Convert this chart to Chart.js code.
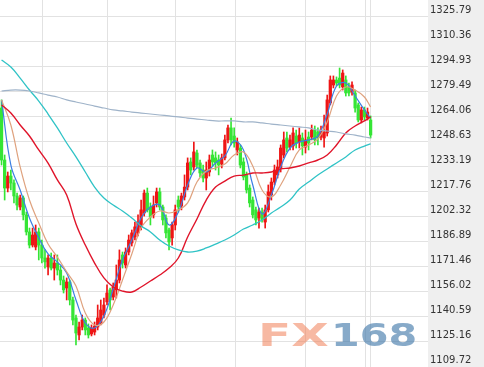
<!DOCTYPE html>
<html><head><meta charset="utf-8">
<script src="https://cdn.jsdelivr.net/npm/chart.js@4.4.0/dist/chart.umd.min.js"></script>
<style>
html,body{margin:0;padding:0;background:#fff;}
#wrap{position:relative;width:484px;height:367px;overflow:hidden;}
#wm{position:absolute;left:0;top:0;width:484px;height:367px;pointer-events:none;font-family:"DejaVu Sans";font-weight:bold;font-size:32px;line-height:32px;}
#wm span{position:absolute;white-space:nowrap;transform-origin:0 0;}
#fx{left:258px;top:319px;color:rgba(240,128,88,0.55);transform:scaleX(1.52);}
#n168{left:331px;top:319px;color:rgba(70,125,172,0.65);transform:scaleX(1.29);}
</style></head><body>
<div id="wrap"><canvas id="c" width="484" height="367"></canvas>
<div id="wm"><span id="fx">FX</span><span id="n168">168</span></div></div>
<script>
// ---------- data ----------
const N_SLOTS = 138; // candle slots across the plot (incl. empty right margin)
const candleOpen = [1269.6,1237.5,1220.2,1227.6,1223.3,1215.3,1208.5,1214.1,1203.6,1193.1,
1185.0,1183.8,1193.1,1185.0,1177.0,1171.5,1177.0,1170.8,1173.9,1169.6,
1163.4,1158.5,1162.2,1151.1,1140.0,1129.5,1134.4,1138.7,1133.8,1130.1,
1131.3,1134.4,1136.9,1141.8,1149.9,1157.3,1152.9,1157.3,1163.4,1178.9,
1172.7,1180.7,1186.3,1190.0,1192.5,1196.2,1204.8,1217.1,1208.5,1203.6,
1211.0,1217.8,1208.5,1201.7,1194.3,1189.4,1197.4,1212.8,1209.1,1214.7,
1220.8,1236.3,1233.2,1241.8,1235.7,1231.3,1226.4,1230.1,1240.6,1238.8,
1237.5,1235.0,1238.8,1249.9,1257.3,1252.3,1243.7,1244.9,1236.3,1228.3,
1220.2,1212.8,1206.7,1201.7,1205.4,1199.2,1206.7,1215.9,1223.9,1228.3,
1232.6,1240.6,1251.1,1245.5,1246.2,1252.3,1248.6,1251.1,1245.5,1251.7,
1251.7,1256.0,1254.8,1251.7,1251.1,1254.2,1272.7,1283.8,1286.9,1288.1,
1282.6,1286.9,1282.6,1279.5,1278.9,1271.5,1262.2,1268.4,1263.4,1262.2];
const candleClose = [1237.5,1220.2,1227.6,1223.3,1215.3,1209.7,1214.1,1203.6,1193.1,1185.0,
1191.2,1193.1,1185.0,1177.0,1174.6,1177.0,1170.8,1173.9,1169.6,1163.4,
1157.3,1162.2,1151.1,1138.7,1130.7,1134.4,1138.7,1132.6,1129.5,1133.8,
1135.0,1140.0,1144.9,1148.0,1155.4,1151.1,1159.1,1163.4,1175.8,1173.9,
1180.7,1188.1,1192.5,1196.2,1199.2,1206.7,1217.1,1206.7,1202.3,1209.7,
1217.8,1208.5,1200.5,1192.5,1186.9,1197.4,1206.7,1208.5,1215.3,1220.8,
1235.7,1231.3,1242.5,1234.4,1229.5,1226.4,1231.3,1237.5,1236.3,1235.7,
1234.4,1238.8,1249.9,1257.3,1249.9,1248.0,1248.6,1234.4,1227.0,1219.0,
1211.0,1203.6,1200.5,1205.4,1200.5,1206.7,1217.8,1223.9,1231.3,1233.2,
1244.9,1249.9,1244.9,1249.9,1254.2,1248.0,1252.9,1246.2,1249.9,1248.0,
1256.0,1249.9,1251.1,1256.0,1254.8,1274.6,1286.9,1286.9,1285.0,1283.8,
1291.2,1278.9,1278.9,1283.8,1269.6,1262.2,1268.4,1264.1,1267.1,1252.9];
const candleHigh = [1274.6,1240.6,1230.1,1231.3,1225.2,1217.1,1215.9,1215.3,1205.4,1195.5,
1195.5,1197.4,1195.5,1188.1,1182.0,1178.9,1180.1,1178.9,1178.9,1172.1,
1165.9,1164.7,1163.4,1152.9,1141.8,1137.5,1141.8,1140.0,1136.3,1135.7,
1137.5,1148.0,1151.1,1152.3,1160.4,1158.5,1161.6,1172.7,1182.0,1180.7,
1183.2,1191.2,1194.3,1199.2,1203.6,1212.8,1219.0,1220.2,1211.0,1215.3,
1220.2,1220.2,1209.7,1203.6,1195.5,1199.2,1209.7,1215.3,1217.1,1228.3,
1238.8,1238.8,1248.6,1243.7,1237.5,1234.4,1236.3,1240.6,1243.7,1242.5,
1240.6,1241.2,1252.9,1259.1,1263.4,1257.3,1251.1,1246.8,1238.8,1230.1,
1222.1,1214.7,1208.5,1207.9,1207.9,1209.7,1222.1,1226.4,1234.4,1237.5,
1246.8,1254.8,1254.8,1252.9,1257.3,1256.0,1257.3,1254.2,1256.0,1254.8,
1259.1,1258.5,1257.3,1258.5,1265.3,1277.6,1289.4,1289.4,1288.8,1294.3,
1293.1,1289.4,1285.0,1285.7,1280.7,1272.7,1270.2,1270.2,1269.6,1264.7];
const candleLow = [1234.4,1212.8,1217.8,1219.0,1211.0,1206.7,1206.7,1200.5,1191.2,1183.2,
1183.8,1182.0,1175.8,1173.9,1170.8,1166.5,1169.6,1163.4,1166.5,1160.4,
1155.4,1151.1,1148.0,1135.7,1123.3,1126.4,1132.6,1129.5,1127.6,1128.9,
1129.5,1132.6,1135.7,1140.0,1148.0,1144.9,1151.1,1152.3,1161.6,1170.8,
1170.8,1178.9,1184.4,1188.1,1190.6,1194.3,1202.9,1205.4,1197.4,1201.7,
1208.5,1206.7,1197.4,1189.4,1182.0,1185.0,1194.3,1205.4,1206.7,1212.8,
1219.0,1228.3,1231.3,1232.6,1227.0,1223.9,1219.0,1227.6,1233.8,1231.3,
1228.3,1232.6,1237.5,1248.0,1246.8,1245.5,1240.6,1232.6,1225.2,1217.1,
1208.5,1201.7,1197.4,1195.5,1199.2,1195.5,1205.4,1212.8,1222.1,1226.4,
1230.1,1238.8,1242.5,1243.7,1243.7,1244.9,1244.9,1240.6,1241.8,1243.7,
1249.9,1246.8,1246.8,1249.9,1245.5,1252.3,1271.5,1282.0,1283.2,1282.0,
1280.7,1277.0,1277.0,1277.6,1267.1,1261.0,1260.4,1262.2,1262.2,1251.1];

// moving averages, sampled at these candle indices
const maIndex = [0,3,6,9,12,15,18,21,24,27,30,33,36,39,42,45,48,51,54,57,60,63,66,69,72,75,78,81,84,87,90,93,96,99,102,105,108,111,114,117,119];
const ma5 = [1274.6,1234.4,1219.0,1201.7,1189.4,1179.5,1174.5,1167.8,1151.1,1136.9,
1133.8,1141.2,1157.9,1175.8,1188.1,1201.7,1208.5,1209.7,1197.4,1205.4,
1222.1,1232.6,1230.1,1235.7,1240.0,1249.2,1243.7,1222.1,1204.2,1215.9,
1233.2,1244.9,1248.6,1249.9,1252.3,1265.9,1283.2,1285.0,1277.0,1268.4,1263.4];
const ma10 = [1274.6,1259.1,1233.2,1212.8,1198.6,1185.6,1177.6,1168.4,1159.7,1143.1,
1135.7,1137.5,1148.0,1163.4,1179.5,1195.5,1202.3,1206.0,1204.8,1206.6,
1211.0,1223.9,1230.7,1232.6,1235.0,1240.6,1242.4,1233.8,1219.0,1214.7,
1222.1,1233.2,1243.7,1246.8,1250.5,1261.0,1277.0,1282.6,1280.7,1276.4,1270.2];
const ma20 = [1271.5,1266.5,1259.1,1252.3,1243.7,1235.6,1225.2,1215.9,1198.0,1185.0,
1173.9,1164.7,1159.1,1156.6,1156.0,1159.1,1162.8,1166.5,1170.8,1177.0,
1190.0,1201.1,1212.8,1220.8,1224.5,1227.6,1228.2,1229.5,1229.5,1230.1,
1232.0,1232.6,1233.8,1235.7,1237.5,1240.6,1246.8,1254.2,1258.5,1261.6,1264.1];
const ma60 = [1299.2,1294.9,1288.1,1280.7,1273.9,1265.9,1257.3,1248.0,1239.4,1230.1,
1220.8,1214.0,1209.7,1206.0,1201.7,1196.8,1193.1,1188.1,1184.4,1182.0,
1180.7,1181.3,1183.2,1185.6,1188.1,1191.2,1194.9,1197.4,1200.5,1204.8,
1208.5,1212.8,1219.6,1223.9,1228.2,1232.0,1235.7,1239.4,1243.7,1246.1,1247.4];
const ma120 = [1280.1,1280.7,1280.7,1280.1,1278.9,1277.6,1276.4,1274.6,1273.3,1272.1,
1270.8,1269.6,1268.4,1267.8,1267.1,1266.5,1265.9,1265.3,1264.7,1264.1,
1263.4,1262.8,1262.2,1261.6,1261.6,1261.6,1261.0,1261.0,1260.4,1259.7,
1259.1,1258.5,1257.9,1257.3,1256.0,1255.4,1254.8,1253.6,1252.9,1251.7,1251.1];

const yTicks = [1109.72,1125.16,1140.59,1156.02,1171.46,1186.89,1202.32,1217.76,1233.19,1248.63,1264.06,1279.49,1294.93,1310.36,1325.79];
const vGridAt = [13.05,34.3,55.95,75.3,97.9,117.2,118.9];

// ---------- chart ----------
const slotLabels = Array.from({length: N_SLOTS}, (_, i) => String(i));
const RED = '#ee1515', GREEN = '#35e535';
const candleColors = candleOpen.map((o, i) => candleClose[i] >= o ? RED : GREEN);
const maPts = arr => maIndex.map((x, k) => ({x: x, y: arr[k]}));
const lineDs = (label, arr, color, w) => ({
  type: 'line', label, xAxisID: 'xl', yAxisID: 'y', data: maPts(arr),
  borderColor: color, borderWidth: w, pointRadius: 0, tension: 0.4, fill: false, order: 1
});

const panelBg = {
  id: 'panelBg',
  beforeDraw(chart) {
    const {ctx, chartArea} = chart;
    ctx.save();
    ctx.fillStyle = '#ffffff';
    ctx.fillRect(0, 0, chart.width, chart.height);
    ctx.fillStyle = '#efefef';
    ctx.fillRect(chartArea.right, 0, chart.width - chartArea.right, chart.height);
    ctx.restore();
  }
};

new Chart(document.getElementById('c'), {
  data: {
    labels: slotLabels,
    datasets: [
      lineDs('MA120', ma120, '#9fb3c9', 1.2),
      lineDs('MA60', ma60, '#2fc3c6', 1.3),
      lineDs('MA20', ma20, '#e0142a', 1.4),
      lineDs('MA10', ma10, '#dfa27e', 1.2),
      lineDs('MA5', ma5, '#3b7fe3', 1.2),
      {type: 'bar', label: 'wick', xAxisID: 'x', yAxisID: 'y',
       data: candleLow.map((l, i) => [l, candleHigh[i]]),
       backgroundColor: candleColors, barThickness: 1, grouped: false, borderWidth: 0, order: 3},
      {type: 'bar', label: 'body', xAxisID: 'x', yAxisID: 'y',
       data: candleOpen.map((o, i) => [o, candleClose[i]]),
       backgroundColor: candleColors, barThickness: 2.6, grouped: false, borderWidth: 0, order: 2}
    ]
  },
  options: {
    responsive: false,
    animation: false,
    devicePixelRatio: 1,
    layout: {padding: 0},
    plugins: {legend: {display: false}, tooltip: {enabled: false}},
    scales: {
      x: {type: 'category', offset: true, grid: {display: false, drawTicks: false},
          ticks: {display: false}, border: {display: false}},
      xl: {type: 'linear', position: 'bottom', min: -0.5, max: N_SLOTS - 0.5,
           afterBuildTicks: s => { s.ticks = vGridAt.map(v => ({value: v})); },
           grid: {color: '#e2e2e2', drawTicks: false}, ticks: {display: false}, border: {display: false}},
      y: {type: 'linear', position: 'right', min: 1109.72, max: 1336.28,
          afterBuildTicks: s => { s.ticks = yTicks.map(v => ({value: v})); },
          afterFit: s => { s.width = 56; s.paddingTop = 0; s.paddingBottom = 0; },
          ticks: {autoSkip: false, callback: v => Number(v).toFixed(2), color: '#333',
                  font: {family: 'DejaVu Sans', size: 10}, padding: 2, labelOffset: -7},
          grid: {color: '#e2e2e2', drawTicks: false}, border: {display: false}}
    }
  },
  plugins: [panelBg]
});
</script>
</body></html>
